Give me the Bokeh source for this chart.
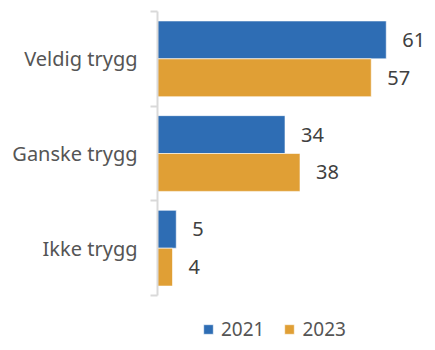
from bokeh.plotting import figure
from bokeh.models import ColumnDataSource, FixedTicker, Legend, LegendItem, Range1d
from bokeh.core.properties import value
from bokeh.embed import file_html
from bokeh.resources import INLINE

categories = ["Veldig trygg", "Ganske trygg", "Ikke trygg"]
v2021 = [61, 34, 5]
v2023 = [57, 38, 4]
series = ["2021", "2023"]
colors = ["#2E6DB4", "#E09F35"]

FONT = "Noto Sans"
n = len(categories)
centres = [n - i - 0.5 for i in range(n)]

# frame extends to the bottom so that the legend can sit inside it
p = figure(width=427, height=342, output_backend="svg", toolbar_location=None,
           x_range=Range1d(0, 72), y_range=Range1d(n - 3.496, n),
           x_axis_location=None, min_border_left=157, min_border_right=0,
           min_border_top=11, min_border_bottom=0)
p.outline_line_color = None
p.xgrid.visible = False
p.ygrid.visible = False

renderers = []
for vals, off, col in [(v2021, 0.2, colors[0]), (v2023, -0.2, colors[1])]:
    src = ColumnDataSource(dict(y=[c + off for c in centres], v=vals,
                                t=[str(v) for v in vals]))
    r = p.hbar(y="y", right="v", left=0, height=0.4, source=src,
               fill_color=col, line_color="white", line_width=0.6)
    renderers.append(r)
    p.text(x="v", y="y", text="t", source=src, x_offset=16,
           text_baseline="middle", text_align="left",
           text_font=value(FONT), text_font_size="20px", text_color="#404040")

ax = p.yaxis[0]
ax.bounds = (0, n)
ax.ticker = FixedTicker(ticks=centres, minor_ticks=list(range(n + 1)))
ax.major_label_overrides = {c: cat for c, cat in zip(centres, categories)}
ax.major_tick_line_color = None
ax.major_tick_out = 0
ax.major_tick_in = 0
ax.minor_tick_line_color = "#d9d9d9"
ax.minor_tick_line_width = 2
ax.minor_tick_out = 7
ax.minor_tick_in = 0
ax.axis_line_color = "#d9d9d9"
ax.axis_line_width = 2
ax.major_label_standoff = 13
ax.major_label_text_font = FONT
ax.major_label_text_font_size = "20px"
ax.major_label_text_color = "#555555"

legend = Legend(items=[LegendItem(label=s, renderers=[r]) for s, r in zip(series, renderers)],
                location=(45, 0), orientation="horizontal",
                glyph_width=12, glyph_height=12, label_standoff=7, spacing=19,
                label_height=14, padding=0, margin=0,
                border_line_color=None, background_fill_color=None,
                label_text_font=FONT, label_text_font_size="19px",
                label_text_color="#555555")
p.add_layout(legend, "center")

open("out.html", "w").write(file_html(p, INLINE))
